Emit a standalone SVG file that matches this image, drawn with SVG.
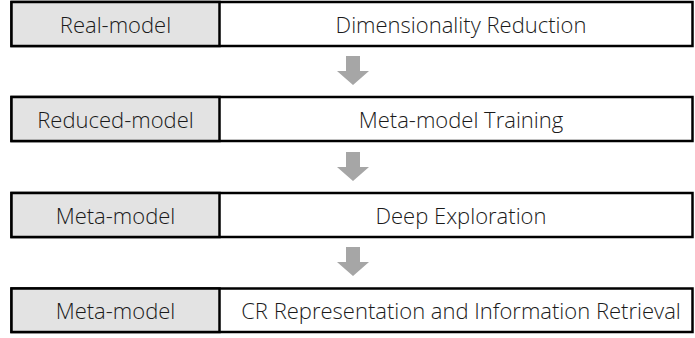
<svg xmlns="http://www.w3.org/2000/svg" width="695" height="338" viewBox="0 0 695 338">
<style>
.lab{fill:#e3e3e3;stroke:#000;stroke-width:2.5}
.main{fill:#fff;stroke:#000;stroke-width:2.5}
.t{font-family:"Open Sans","Noto Sans",sans-serif;font-size:22px;font-weight:300;fill:#1a1a1a;text-anchor:middle;dominant-baseline:central}
.arr{fill:#a6a6a6}
</style>
<defs>
<path id="ar" d="M-7,0 H7 V15 H16 L0,29 L-16,15 H-7 Z"/>
</defs>
<g id="row1">
<rect class="main" x="11.5" y="2" width="681" height="44"/>
<rect class="lab" x="11.5" y="2" width="208" height="44"/>
<text class="t" x="115.5" y="23.5">Real-model</text>
<text class="t" x="461" y="23.5">Dimensionality Reduction</text>
</g>
<g id="row2">
<rect class="main" x="11.5" y="97" width="681" height="44"/>
<rect class="lab" x="11.5" y="97" width="208" height="44"/>
<text class="t" x="115.5" y="118.5">Reduced-model</text>
<text class="t" x="461" y="118.5">Meta-model Training</text>
</g>
<g id="row3">
<rect class="main" x="11.5" y="193" width="681" height="44"/>
<rect class="lab" x="11.5" y="193" width="208" height="44"/>
<text class="t" x="115.5" y="214.5">Meta-model</text>
<text class="t" x="461" y="214.5">Deep Exploration</text>
</g>
<g id="row4">
<rect class="main" x="11.5" y="288.5" width="681" height="43.5"/>
<rect class="lab" x="11.5" y="288.5" width="208" height="43.5"/>
<text class="t" x="115.5" y="310">Meta-model</text>
<text class="t" x="461" y="310">CR Representation and Information Retrieval</text>
</g>
<g id="connectors">
<use href="#ar" class="arr" x="353" y="56"/>
<use href="#ar" class="arr" x="353" y="152"/>
<use href="#ar" class="arr" x="353" y="247"/>
</g>
</svg>
